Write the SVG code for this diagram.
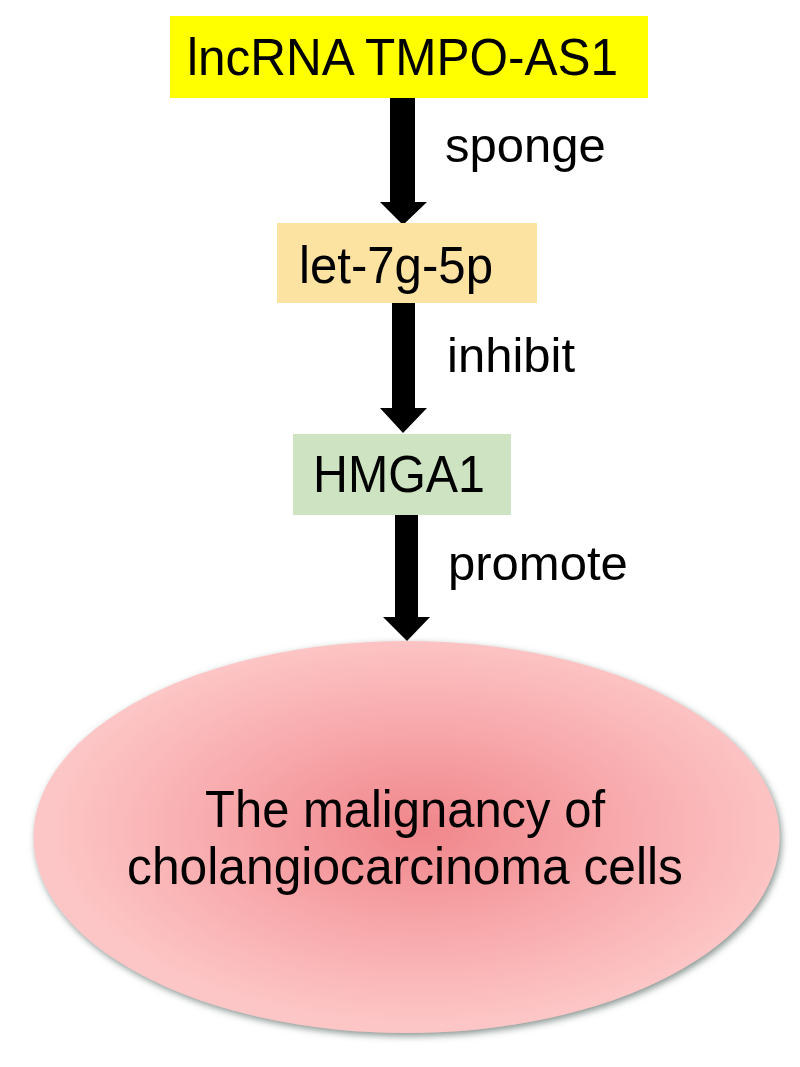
<svg xmlns="http://www.w3.org/2000/svg" width="800" height="1067" viewBox="0 0 800 1067">
  <style>
    .t { font-family: "Liberation Sans", Arial, sans-serif; fill: #000; }
    .node { font-size: 52px; }
    .lbl { font-size: 49px; }
  </style>
  <defs>
    <radialGradient id="pinkGrad" cx="0.52" cy="0.48" r="0.5">
      <stop offset="0" stop-color="#F0868B"/>
      <stop offset="0.55" stop-color="#F8AAAD"/>
      <stop offset="1" stop-color="#FDC6C6"/>
    </radialGradient>
    <filter id="shadow" x="-10%" y="-10%" width="120%" height="125%">
      <feDropShadow dx="2" dy="3" stdDeviation="3.5" flood-color="#5f706a" flood-opacity="0.75"/>
    </filter>
  </defs>
  <rect width="800" height="1067" fill="#ffffff"/>

  <g id="connectors" fill="#000">
    <polygon points="390,98 415,98 415,202 427,202 403,225 380,202 390,202"/>
    <polygon points="392,303 415,303 415,408 427,408 403,433 380,408 392,408"/>
    <polygon points="395,515 418,515 418,617 430,617 407,641 383,617 395,617"/>
    <text class="t lbl" x="445" y="162">sponge</text>
    <text class="t lbl" x="447" y="372">inhibit</text>
    <text class="t lbl" x="448" y="580">promote</text>
  </g>

  <g id="node-lncrna">
    <rect x="170" y="16" width="478" height="82" fill="#FFFF00"/>
    <text class="t node" x="402.5" y="75" text-anchor="middle" textLength="431" lengthAdjust="spacingAndGlyphs">lncRNA TMPO-AS1</text>
  </g>

  <g id="node-let7g">
    <rect x="277" y="223" width="260" height="80" fill="#FDE3A2"/>
    <text class="t node" x="396" y="283" text-anchor="middle" textLength="194" lengthAdjust="spacingAndGlyphs">let-7g-5p</text>
  </g>

  <g id="node-hmga1">
    <rect x="293" y="434" width="218" height="81" fill="#CDE3C1"/>
    <text class="t node" x="399" y="492" text-anchor="middle" textLength="172" lengthAdjust="spacingAndGlyphs">HMGA1</text>
  </g>

  <g id="node-malignancy">
    <ellipse cx="406.5" cy="837" rx="373" ry="196" fill="url(#pinkGrad)" filter="url(#shadow)"/>
    <text class="t node" x="405" y="827" text-anchor="middle" textLength="400" lengthAdjust="spacingAndGlyphs">The malignancy of</text>
    <text class="t node" x="405" y="884" text-anchor="middle" textLength="556" lengthAdjust="spacingAndGlyphs">cholangiocarcinoma cells</text>
  </g>
</svg>
